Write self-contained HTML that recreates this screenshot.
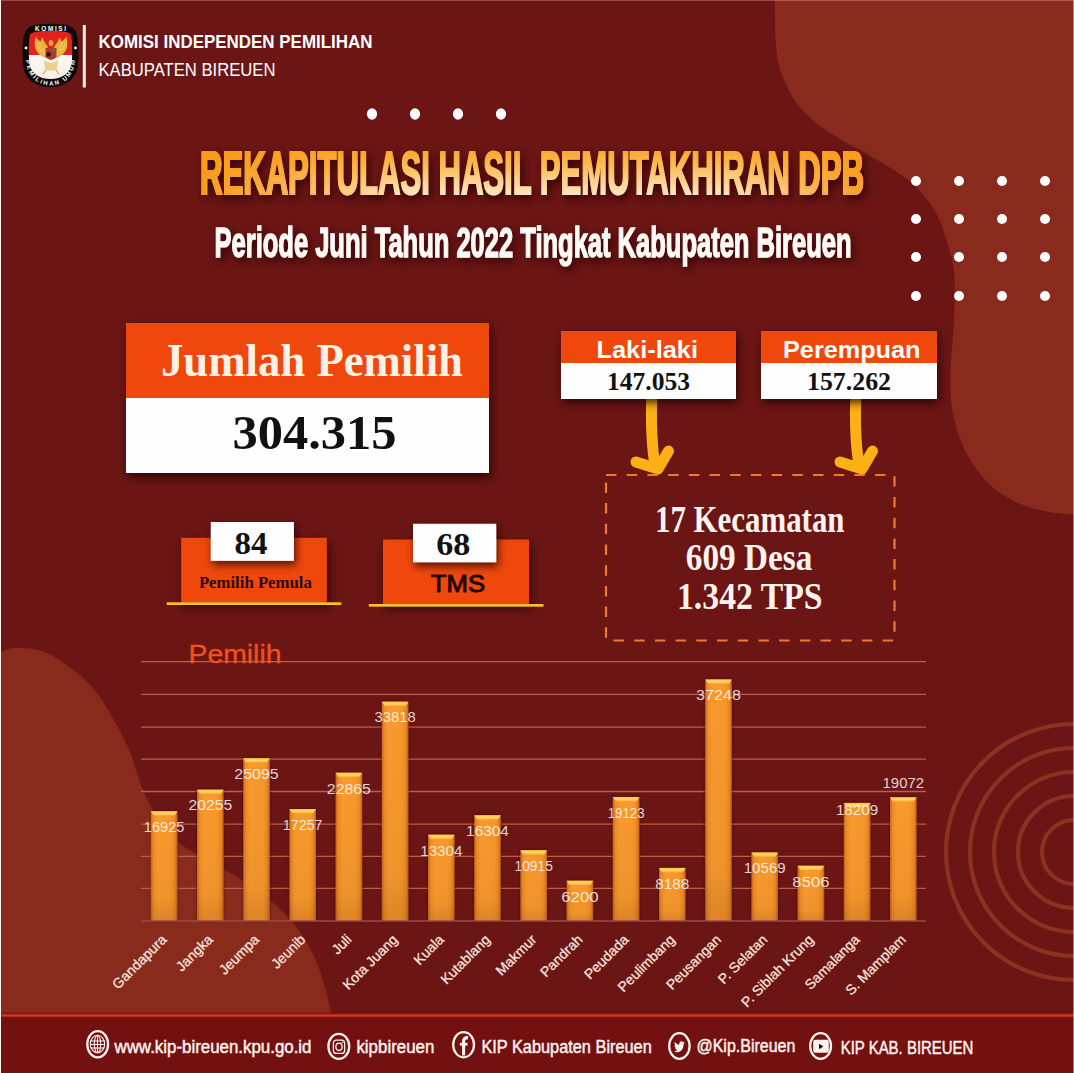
<!DOCTYPE html>
<html><head><meta charset="utf-8">
<style>
*{margin:0;padding:0;box-sizing:border-box}
html,body{width:1074px;height:1073px;overflow:hidden;background:#6b1514}
#root{position:relative;width:1074px;height:1073px;overflow:hidden;background:#6b1514;font-family:"Liberation Sans",sans-serif}
.abs{position:absolute}
svg.layer{position:absolute;left:0;top:0}
</style></head><body><div id="root">

<svg class="layer" width="1074" height="1073" viewBox="0 0 1074 1073">
  <!-- top-right blob -->
  <path d="M775,-1 C775.0,2.5 774.9,13.2 775,20 C775.1,26.8 774.9,32.5 775.5,40 C776.1,47.5 776.9,57.7 778.6,65 C780.4,72.3 782.9,77.5 786,84 C789.1,90.5 792.3,97.5 797.3,104 C802.3,110.5 809.2,117.3 816,123 C822.8,128.7 830.2,133.0 838.3,138 C846.4,143.0 855.7,147.8 864.4,152.8 C873.1,157.8 882.4,162.8 890.5,168 C898.6,173.2 907.1,179.0 913,184 C918.9,189.0 922.2,193.2 926,198 C929.8,202.8 933.3,208.3 936,213 C938.7,217.7 940.3,221.5 942,226 C943.7,230.5 944.6,234.5 946.3,240 C948.0,245.5 950.6,252.8 952,259 C953.4,265.2 954.0,269.3 954.4,277 C954.8,284.7 954.8,295.7 954.6,305 C954.4,314.3 954.0,322.8 953.3,333 C952.6,343.2 951.0,355.5 950.6,366 C950.2,376.5 950.2,387.9 950.7,396 C951.2,404.1 952.1,408.4 953.3,414.6 C954.5,420.8 955.5,425.9 958,433 C960.5,440.1 963.6,448.7 968.6,457 C973.6,465.3 980.4,475.7 988,483 C995.6,490.3 1004.7,496.3 1014,501 C1023.3,505.7 1033.5,508.7 1043.7,511 C1053.9,513.3 1069.8,514.3 1075,515 L1075,-1 Z" fill="#892b1c"/>
  <!-- bottom-left blob -->
  <path d="M-1,653 C1.7,652.2 7.4,648.2 15,648 C22.6,647.8 34.8,648.2 44.7,652 C54.6,655.8 65.8,664.2 74.5,671 C83.2,677.8 90.2,684.3 97,693 C103.8,701.7 109.9,713.0 115.5,723 C121.1,733.0 126.1,742.4 130.4,753 C134.8,763.6 137.2,776.0 141.6,786.5 C145.9,797.0 150.3,806.7 156.5,816 C162.7,825.3 170.3,835.0 179,842.5 C187.7,850.0 198.2,854.8 208.7,861 C219.2,867.2 231.4,873.2 242,880 C252.6,886.8 263.3,894.6 272,902 C280.7,909.4 287.6,915.8 294.4,924.5 C301.2,933.2 308.1,944.1 313,954 C317.9,963.9 321.2,975.0 324,984 C326.8,993.0 328.8,1003.0 330,1008 C331.2,1013.0 330.8,1013.0 331,1014 L-1,1014 Z" fill="#892b1c"/>
  <!-- concentric rings -->
  <g fill="none" stroke="#8d3123" stroke-width="4.2">
    <circle cx="1074" cy="852" r="32"/>
    <circle cx="1074" cy="852" r="56"/>
    <circle cx="1074" cy="852" r="80"/>
    <circle cx="1074" cy="852" r="104"/>
    <circle cx="1074" cy="852" r="128"/>
  </g>
  <!-- footer -->
  <rect x="0" y="1013" width="1074" height="60" fill="#731010"/>
  <rect x="0" y="1012.6" width="1074" height="5" fill="#8c0f0a"/>
  <rect x="0" y="1014.3" width="1074" height="2.4" fill="#c83c1e"/>
  <!-- dots -->
  <g fill="#fff">
    <ellipse cx="372" cy="114" rx="5.1" ry="5.7"/><ellipse cx="415" cy="114" rx="5.1" ry="5.7"/><ellipse cx="458" cy="114" rx="5.1" ry="5.7"/><ellipse cx="501" cy="114" rx="5.1" ry="5.7"/>
  </g>
  <g fill="#fff">
    <circle cx="916" cy="181" r="5"/><circle cx="959" cy="181" r="5"/><circle cx="1002" cy="181" r="5"/><circle cx="1045" cy="181" r="5"/>
    <circle cx="916" cy="219" r="5"/><circle cx="959" cy="219" r="5"/><circle cx="1002" cy="219" r="5"/><circle cx="1045" cy="219" r="5"/>
    <circle cx="916" cy="257" r="5"/><circle cx="959" cy="257" r="5"/><circle cx="1002" cy="257" r="5"/><circle cx="1045" cy="257" r="5"/>
    <circle cx="916" cy="296" r="5"/><circle cx="959" cy="296" r="5"/><circle cx="1002" cy="296" r="5"/><circle cx="1045" cy="296" r="5"/>
  </g>
</svg>


<!-- header logo -->
<svg class="layer" width="1074" height="1073" viewBox="0 0 1074 1073" style="z-index:2">
  <defs>
    <linearGradient id="rw" x1="0" y1="0" x2="0" y2="1">
      <stop offset="0" stop-color="#e0201c"/><stop offset="0.5" stop-color="#e3231d"/><stop offset="0.5" stop-color="#fbf7f2"/><stop offset="1" stop-color="#f5efe8"/>
    </linearGradient>
    <linearGradient id="tgv" x1="0" y1="0" x2="0" y2="1">
      <stop offset="0.05" stop-color="#f89c14"/><stop offset="0.4" stop-color="#fbbc55"/><stop offset="0.78" stop-color="#fee2b6"/><stop offset="1" stop-color="#fff3e2"/>
    </linearGradient>
    <linearGradient id="tgh" x1="0" y1="0" x2="1" y2="0">
      <stop offset="0" stop-color="#f99b15" stop-opacity="1"/><stop offset="0.12" stop-color="#f99b15" stop-opacity="0.6"/><stop offset="0.3" stop-color="#f99b15" stop-opacity="0"/><stop offset="0.8" stop-color="#f99b15" stop-opacity="0"/><stop offset="1" stop-color="#f99b15" stop-opacity="0.9"/>
    </linearGradient>
    <filter id="tsh" x="-10%" y="-30%" width="120%" height="160%">
      <feGaussianBlur in="SourceAlpha" stdDeviation="4"/>
      <feOffset dx="3" dy="4" result="b"/>
      <feFlood flood-color="#2a0303" flood-opacity="0.85"/>
      <feComposite in2="b" operator="in"/>
      <feMerge><feMergeNode/><feMergeNode in="SourceGraphic"/></feMerge>
    </filter>
  </defs>
  <path d="M50.5,23.8 C62,23.8 72,25 75.5,31 C79,38 78.8,55 77.8,66 C76.3,80 64,87.2 50.5,87.2 C37,87.2 24.7,80 23.2,66 C22.2,55 22,38 25.5,31 C29,25 39,23.8 50.5,23.8 Z" fill="#0d0a0a"/>
  <path d="M50.5,31 C60,31 68,31.5 70.8,34 C72.8,40 72.3,55 71.8,62 C70.8,73 62,79 50.5,79 C39,79 30.2,73 29.2,62 C28.7,55 28.2,40 30.2,34 C33,31.5 41,31 50.5,31 Z" fill="url(#rw)"/>
  <g>
    <path id="lw" d="M49,58 C44,58.5 37.5,55 35.2,48 C34.2,44 34.6,40 35.8,36.5 C37.3,39.5 38.8,40.5 40.6,41.5 C41,39.8 41.6,38.6 42.6,37.6 C43.6,40.8 45,43.8 47.5,46 Z" fill="#e9b23e"/>
    <use href="#lw" transform="translate(102,0) scale(-1,1)"/>
    <path d="M37,44 C39,50 43,54 48,55.5 M39.5,42.5 C41,48 44,51.5 48,53" stroke="#f7d88a" stroke-width="0.8" fill="none"/>
    <path d="M65,44 C63,50 59,54 54,55.5 M62.5,42.5 C61,48 58,51.5 54,53" stroke="#f7d88a" stroke-width="0.8" fill="none"/>
    <ellipse cx="51" cy="43" rx="2.4" ry="3" fill="#e2a73a"/>
    <path d="M45.5,48 H56.5 V57 Q51,63 45.5,57 Z" fill="#b3372a"/>
    <rect x="46.5" y="52.5" width="4" height="4" fill="#1c1410"/>
    <circle cx="53.6" cy="50.6" r="1.6" fill="#2f8a3a"/>
    <path d="M44,60 Q51,66 58,60 L57,69 Q51,73 45,69 Z" fill="#ecd08c"/>
    <path d="M46,70 L43,74 M56,70 L59,74" stroke="#e2b860" stroke-width="1.4"/>
  </g>
  <text x="50.5" y="30.6" text-anchor="middle" font-family="Liberation Sans" font-weight="bold" font-size="6.4" fill="#fff" textLength="31" lengthAdjust="spacing">KOMISI</text>
  <path id="arcb" d="M25.6,55 C25.8,75 36,85.4 50.5,85.4 C65,85.4 75.2,75 75.4,55" fill="none"/>
  <text font-family="Liberation Sans" font-weight="bold" font-size="6" fill="#fff"><textPath href="#arcb" startOffset="50%" text-anchor="middle" textLength="78" lengthAdjust="spacing">PEMILIHAN UMUM</textPath></text>
  <circle cx="26" cy="48" r="1.4" fill="#fff"/><circle cx="75.5" cy="48" r="1.4" fill="#fff"/>
  <rect x="82.8" y="25" width="3" height="62.5" fill="#fbeee8"/>
  <text x="98.5" y="48.4" font-family="Liberation Sans" font-weight="bold" font-size="18" fill="#fff" textLength="274" lengthAdjust="spacingAndGlyphs">KOMISI INDEPENDEN PEMILIHAN</text>
  <text x="98.5" y="76.3" font-family="Liberation Sans" font-size="18" fill="#fff" textLength="177" lengthAdjust="spacingAndGlyphs">KABUPATEN BIREUEN</text>

  <!-- title -->
  <g filter="url(#tsh)">
    <text x="200" y="194" font-family="Liberation Sans" font-weight="bold" font-size="61.5" fill="url(#tgv)" stroke="url(#tgv)" stroke-width="2" textLength="664" lengthAdjust="spacingAndGlyphs">REKAPITULASI HASIL PEMUTAKHIRAN DPB</text>
  </g>
  <text x="200" y="194" font-family="Liberation Sans" font-weight="bold" font-size="61.5" fill="url(#tgh)" stroke="url(#tgh)" stroke-width="2" textLength="664" lengthAdjust="spacingAndGlyphs">REKAPITULASI HASIL PEMUTAKHIRAN DPB</text>
  <g filter="url(#tsh)">
    <text x="214.5" y="257.3" font-family="Liberation Sans" font-weight="bold" font-size="42" fill="#fffaf5" stroke="#fffaf5" stroke-width="1.3" textLength="637" lengthAdjust="spacingAndGlyphs">Periode Juni Tahun 2022 Tingkat Kabupaten Bireuen</text>
  </g>
</svg>


<!-- boxes -->
<svg class="layer" width="1074" height="1073" viewBox="0 0 1074 1073" style="z-index:3">
  <defs>
    <filter id="bsh" x="-20%" y="-20%" width="140%" height="150%">
      <feGaussianBlur in="SourceAlpha" stdDeviation="4"/>
      <feOffset dx="2" dy="4" result="b"/>
      <feFlood flood-color="#1a0000" flood-opacity="0.75"/>
      <feComposite in2="b" operator="in"/>
      <feMerge><feMergeNode/><feMergeNode in="SourceGraphic"/></feMerge>
    </filter>
  </defs>
  <!-- arrows -->
  <g fill="none" stroke="#fbb116" stroke-width="11" stroke-linecap="round" stroke-linejoin="round">
    <path d="M651.8,396 C651,420 651.5,445 655,465"/>
    <path d="M636,462 L658,469 L668.5,451"/>
    <path d="M855.8,396 C855,420 855.5,445 859,465"/>
    <path d="M840,462 L862,469 L872.5,451"/>
  </g>

  <g filter="url(#bsh)">
    <rect x="126" y="323" width="363" height="75" fill="#f0460a"/>
    <rect x="126" y="398" width="363" height="75" fill="#fefefe"/>
  </g>
  <text x="161" y="375.5" font-family="Liberation Serif" font-weight="bold" font-size="46.5" fill="#fdf1e6" textLength="302" lengthAdjust="spacingAndGlyphs">Jumlah Pemilih</text>
  <text x="232.5" y="449.2" font-family="Liberation Serif" font-weight="bold" font-size="48" fill="#111" textLength="164" lengthAdjust="spacingAndGlyphs">304.315</text>

  <g filter="url(#bsh)">
    <rect x="561" y="331" width="175" height="32" fill="#f0460a"/>
    <rect x="561" y="363" width="175" height="36" fill="#fefefe"/>
    <rect x="761" y="331" width="176" height="32" fill="#f0460a"/>
    <rect x="761" y="363" width="176" height="36" fill="#fefefe"/>
  </g>
  <text x="596.5" y="358.4" font-family="Liberation Sans" font-weight="bold" font-size="24" fill="#fff" textLength="101.5" lengthAdjust="spacingAndGlyphs">Laki-laki</text>
  <text x="783" y="358.4" font-family="Liberation Sans" font-weight="bold" font-size="24" fill="#fff" textLength="137.5" lengthAdjust="spacingAndGlyphs">Perempuan</text>
  <text x="607" y="389.6" font-family="Liberation Serif" font-weight="bold" font-size="25" fill="#111" textLength="83" lengthAdjust="spacingAndGlyphs">147.053</text>
  <text x="807" y="390.3" font-family="Liberation Serif" font-weight="bold" font-size="25" fill="#111" textLength="84" lengthAdjust="spacingAndGlyphs">157.262</text>

  <!-- small boxes -->
  <g filter="url(#bsh)">
    <rect x="181.2" y="537.8" width="145.6" height="64.8" fill="#f0460a"/>
    <rect x="383" y="539.5" width="146" height="65" fill="#f0460a"/>
  </g>
  <g filter="url(#bsh)">
    <rect x="210.8" y="522" width="83.1" height="38.8" fill="#fefefe"/>
    <rect x="413" y="523.8" width="83.2" height="38.4" fill="#fefefe"/>
  </g>
  <rect x="166.7" y="602.3" width="174.6" height="2.7" fill="#f6c22c"/>
  <rect x="368.8" y="604" width="174.7" height="2.7" fill="#f6c22c"/>
  <text x="234.5" y="553.9" font-family="Liberation Serif" font-weight="bold" font-size="31" fill="#111" textLength="33" lengthAdjust="spacingAndGlyphs">84</text>
  <text x="436.3" y="554.6" font-family="Liberation Serif" font-weight="bold" font-size="31" fill="#111" textLength="34" lengthAdjust="spacingAndGlyphs">68</text>
  <text x="198.9" y="587.8" font-family="Liberation Serif" font-weight="bold" font-size="16" fill="#2a0806" textLength="112.9" lengthAdjust="spacingAndGlyphs">Pemilih Pemula</text>
  <text x="430.8" y="592.3" font-family="Liberation Sans" font-size="23" fill="#1f0503" stroke="#1f0503" stroke-width="0.9" textLength="54.3" lengthAdjust="spacingAndGlyphs">TMS</text>

  <!-- dashed box -->
  <rect x="606" y="475" width="288.5" height="165.5" fill="none" stroke="#f2782a" stroke-width="2.2" stroke-dasharray="10.5,10.2"/>
  <g font-family="Liberation Serif" font-weight="bold" font-size="38" fill="#fdf3ee">
    <text x="655" y="531.5" textLength="189.5" lengthAdjust="spacingAndGlyphs">17 Kecamatan</text>
    <text x="685.8" y="570" textLength="126.5" lengthAdjust="spacingAndGlyphs">609 Desa</text>
    <text x="677" y="609" textLength="145.5" lengthAdjust="spacingAndGlyphs">1.342 TPS</text>
  </g>
</svg>

<!--CHART--><svg class="layer" width="1074" height="1073" viewBox="0 0 1074 1073" style="z-index:1">
<defs>
<linearGradient id="barH" x1="0" y1="0" x2="1" y2="0">
<stop offset="0" stop-color="#c9661a"/><stop offset="0.1" stop-color="#ee8d28"/><stop offset="0.25" stop-color="#f99a2e"/><stop offset="0.75" stop-color="#f8982c"/><stop offset="0.9" stop-color="#ec8a26"/><stop offset="1" stop-color="#c46018"/>
</linearGradient>
<linearGradient id="barV" x1="0" y1="0" x2="0" y2="1">
<stop offset="0" stop-color="#000" stop-opacity="0"/><stop offset="0.8" stop-color="#000" stop-opacity="0.04"/><stop offset="1" stop-color="#401000" stop-opacity="0.15"/>
</linearGradient>
<linearGradient id="barT" x1="0" y1="0" x2="0" y2="1">
<stop offset="0" stop-color="#ffc24a"/><stop offset="0.5" stop-color="#ffd866"/><stop offset="1" stop-color="#f9a536"/>
</linearGradient>
<filter id="barsh" x="-30%" y="-5%" width="160%" height="110%">
<feGaussianBlur in="SourceAlpha" stdDeviation="1.6"/>
<feOffset dx="0" dy="0" result="b"/>
<feFlood flood-color="#2a0000" flood-opacity="0.6"/>
<feComposite in2="b" operator="in"/>
<feMerge><feMergeNode/><feMergeNode in="SourceGraphic"/></feMerge>
</filter>
</defs>
<g stroke="#bd5f45" stroke-width="1.3">
<line x1="141" y1="888.30" x2="926" y2="888.30"/>
<line x1="141" y1="856.30" x2="926" y2="856.30"/>
<line x1="141" y1="824.10" x2="926" y2="824.10"/>
<line x1="141" y1="791.50" x2="926" y2="791.50"/>
<line x1="141" y1="759.10" x2="926" y2="759.10"/>
<line x1="141" y1="727.10" x2="926" y2="727.10"/>
<line x1="141" y1="694.40" x2="926" y2="694.40"/>
<line x1="141" y1="661.60" x2="926" y2="661.60"/>
</g>
<text x="188.5" y="662.7" font-family="Liberation Sans" font-size="25" fill="#f0521c" textLength="93" lengthAdjust="spacingAndGlyphs" stroke="#f0521c" stroke-width="0.3">Pemilih</text>
<g filter="url(#barsh)">
<rect x="150.80" y="811.24" width="26.6" height="109.76" fill="url(#barH)"/>
<rect x="197.00" y="789.65" width="26.6" height="131.35" fill="url(#barH)"/>
<rect x="243.20" y="758.26" width="26.6" height="162.74" fill="url(#barH)"/>
<rect x="289.40" y="809.09" width="26.6" height="111.91" fill="url(#barH)"/>
<rect x="335.60" y="772.72" width="26.6" height="148.28" fill="url(#barH)"/>
<rect x="381.80" y="701.69" width="26.6" height="219.31" fill="url(#barH)"/>
<rect x="428.00" y="834.72" width="26.6" height="86.28" fill="url(#barH)"/>
<rect x="474.20" y="815.27" width="26.6" height="105.73" fill="url(#barH)"/>
<rect x="520.40" y="850.22" width="26.6" height="70.78" fill="url(#barH)"/>
<rect x="566.60" y="880.79" width="26.6" height="40.21" fill="url(#barH)"/>
<rect x="612.80" y="796.99" width="26.6" height="124.01" fill="url(#barH)"/>
<rect x="659.00" y="867.90" width="26.6" height="53.10" fill="url(#barH)"/>
<rect x="705.20" y="679.45" width="26.6" height="241.55" fill="url(#barH)"/>
<rect x="751.40" y="852.46" width="26.6" height="68.54" fill="url(#barH)"/>
<rect x="797.60" y="865.84" width="26.6" height="55.16" fill="url(#barH)"/>
<rect x="843.80" y="802.91" width="26.6" height="118.09" fill="url(#barH)"/>
<rect x="890.00" y="797.32" width="26.6" height="123.68" fill="url(#barH)"/>
</g>
<rect x="150.80" y="811.24" width="26.6" height="109.76" fill="url(#barV)"/>
<path d="M150.80,811.24 h26.6 l-3,4.5 h-20.6 z" fill="url(#barT)"/>
<rect x="197.00" y="789.65" width="26.6" height="131.35" fill="url(#barV)"/>
<path d="M197.00,789.65 h26.6 l-3,4.5 h-20.6 z" fill="url(#barT)"/>
<rect x="243.20" y="758.26" width="26.6" height="162.74" fill="url(#barV)"/>
<path d="M243.20,758.26 h26.6 l-3,4.5 h-20.6 z" fill="url(#barT)"/>
<rect x="289.40" y="809.09" width="26.6" height="111.91" fill="url(#barV)"/>
<path d="M289.40,809.09 h26.6 l-3,4.5 h-20.6 z" fill="url(#barT)"/>
<rect x="335.60" y="772.72" width="26.6" height="148.28" fill="url(#barV)"/>
<path d="M335.60,772.72 h26.6 l-3,4.5 h-20.6 z" fill="url(#barT)"/>
<rect x="381.80" y="701.69" width="26.6" height="219.31" fill="url(#barV)"/>
<path d="M381.80,701.69 h26.6 l-3,4.5 h-20.6 z" fill="url(#barT)"/>
<rect x="428.00" y="834.72" width="26.6" height="86.28" fill="url(#barV)"/>
<path d="M428.00,834.72 h26.6 l-3,4.5 h-20.6 z" fill="url(#barT)"/>
<rect x="474.20" y="815.27" width="26.6" height="105.73" fill="url(#barV)"/>
<path d="M474.20,815.27 h26.6 l-3,4.5 h-20.6 z" fill="url(#barT)"/>
<rect x="520.40" y="850.22" width="26.6" height="70.78" fill="url(#barV)"/>
<path d="M520.40,850.22 h26.6 l-3,4.5 h-20.6 z" fill="url(#barT)"/>
<rect x="566.60" y="880.79" width="26.6" height="40.21" fill="url(#barV)"/>
<path d="M566.60,880.79 h26.6 l-3,4.5 h-20.6 z" fill="url(#barT)"/>
<rect x="612.80" y="796.99" width="26.6" height="124.01" fill="url(#barV)"/>
<path d="M612.80,796.99 h26.6 l-3,4.5 h-20.6 z" fill="url(#barT)"/>
<rect x="659.00" y="867.90" width="26.6" height="53.10" fill="url(#barV)"/>
<path d="M659.00,867.90 h26.6 l-3,4.5 h-20.6 z" fill="url(#barT)"/>
<rect x="705.20" y="679.45" width="26.6" height="241.55" fill="url(#barV)"/>
<path d="M705.20,679.45 h26.6 l-3,4.5 h-20.6 z" fill="url(#barT)"/>
<rect x="751.40" y="852.46" width="26.6" height="68.54" fill="url(#barV)"/>
<path d="M751.40,852.46 h26.6 l-3,4.5 h-20.6 z" fill="url(#barT)"/>
<rect x="797.60" y="865.84" width="26.6" height="55.16" fill="url(#barV)"/>
<path d="M797.60,865.84 h26.6 l-3,4.5 h-20.6 z" fill="url(#barT)"/>
<rect x="843.80" y="802.91" width="26.6" height="118.09" fill="url(#barV)"/>
<path d="M843.80,802.91 h26.6 l-3,4.5 h-20.6 z" fill="url(#barT)"/>
<rect x="890.00" y="797.32" width="26.6" height="123.68" fill="url(#barV)"/>
<path d="M890.00,797.32 h26.6 l-3,4.5 h-20.6 z" fill="url(#barT)"/>
<line x1="141" y1="921" x2="926" y2="921" stroke="#9a4a4a" stroke-width="1.5"/>
<g font-family="Liberation Sans" font-size="15.3" fill="#fff" fill-opacity="0.82" text-anchor="middle">
<text x="164.10" y="832.04" textLength="40.58" lengthAdjust="spacingAndGlyphs">16925</text>
<text x="210.30" y="810.45" textLength="43.71" lengthAdjust="spacingAndGlyphs">20255</text>
<text x="256.50" y="779.06" textLength="44.44" lengthAdjust="spacingAndGlyphs">25095</text>
<text x="302.70" y="829.89" textLength="39.78" lengthAdjust="spacingAndGlyphs">17257</text>
<text x="348.90" y="793.52" textLength="44.11" lengthAdjust="spacingAndGlyphs">22865</text>
<text x="395.10" y="722.49" textLength="41.28" lengthAdjust="spacingAndGlyphs">33818</text>
<text x="441.30" y="855.52" textLength="41.99" lengthAdjust="spacingAndGlyphs">13304</text>
<text x="487.50" y="836.07" textLength="42.73" lengthAdjust="spacingAndGlyphs">16304</text>
<text x="533.70" y="871.02" textLength="38.27" lengthAdjust="spacingAndGlyphs">10915</text>
<text x="579.90" y="901.59" textLength="37.37" lengthAdjust="spacingAndGlyphs">6200</text>
<text x="626.10" y="817.79" textLength="36.84" lengthAdjust="spacingAndGlyphs">19123</text>
<text x="672.30" y="888.70" textLength="34.03" lengthAdjust="spacingAndGlyphs">8188</text>
<text x="718.50" y="700.25" textLength="44.80" lengthAdjust="spacingAndGlyphs">37248</text>
<text x="764.70" y="873.26" textLength="41.99" lengthAdjust="spacingAndGlyphs">10569</text>
<text x="810.90" y="886.64" textLength="37.02" lengthAdjust="spacingAndGlyphs">8506</text>
<text x="857.10" y="815.31" textLength="42.42" lengthAdjust="spacingAndGlyphs">18209</text>
<text x="903.30" y="788.32" textLength="41.60" lengthAdjust="spacingAndGlyphs">19072</text>
</g>
<g font-family="Liberation Sans" font-size="14" fill="#f6e2dc" stroke="#f6e2dc" stroke-width="0.3" text-anchor="end">
<text transform="translate(167.60,940.40) rotate(-45)">Gandapura</text>
<text transform="translate(213.80,940.40) rotate(-45)">Jangka</text>
<text transform="translate(260.00,940.40) rotate(-45)">Jeumpa</text>
<text transform="translate(306.20,940.40) rotate(-45)">Jeunib</text>
<text transform="translate(352.40,940.40) rotate(-45)">Juli</text>
<text transform="translate(398.60,940.40) rotate(-45)">Kota Juang</text>
<text transform="translate(444.80,940.40) rotate(-45)">Kuala</text>
<text transform="translate(491.00,940.40) rotate(-45)">Kutablang</text>
<text transform="translate(537.20,940.40) rotate(-45)">Makmur</text>
<text transform="translate(583.40,940.40) rotate(-45)">Pandrah</text>
<text transform="translate(629.60,940.40) rotate(-45)">Peudada</text>
<text transform="translate(675.80,940.40) rotate(-45)">Peulimbang</text>
<text transform="translate(722.00,940.40) rotate(-45)">Peusangan</text>
<text transform="translate(768.20,940.40) rotate(-45)">P. Selatan</text>
<text transform="translate(814.40,940.40) rotate(-45)">P. Siblah Krung</text>
<text transform="translate(860.60,940.40) rotate(-45)">Samalanga</text>
<text transform="translate(906.80,940.40) rotate(-45)">S. Mamplam</text>
</g>
</svg><!--/CHART-->

<!-- footer -->
<svg class="layer" width="1074" height="1073" viewBox="0 0 1074 1073" style="z-index:4">
  <g fill="none" stroke="#fdf2ee" stroke-width="2.3">
    <ellipse cx="97.7" cy="1044.3" rx="10.4" ry="13.1"/>
    <ellipse cx="338.8" cy="1046.4" rx="10.4" ry="12.5"/>
    <ellipse cx="463.6" cy="1044.7" rx="10.4" ry="12.6"/>
    <ellipse cx="679.4" cy="1046" rx="10.2" ry="12.8"/>
    <ellipse cx="820.6" cy="1046" rx="10.4" ry="12.8"/>
  </g>
  <!-- globe -->
  <g fill="none" stroke="#fdf2ee" stroke-width="1.1">
    <ellipse cx="97.5" cy="1044" rx="7.2" ry="8.8"/>
    <ellipse cx="97.5" cy="1044" rx="3.2" ry="8.8"/>
    <line x1="97.5" y1="1035.2" x2="97.5" y2="1052.8"/>
    <line x1="90.5" y1="1041" x2="104.5" y2="1041"/>
    <line x1="90.3" y1="1044.5" x2="104.7" y2="1044.5"/>
    <line x1="90.8" y1="1048" x2="104.2" y2="1048"/>
  </g>
  <!-- instagram -->
  <g fill="none" stroke="#fdf2ee" stroke-width="1.3">
    <rect x="333.4" y="1040.2" width="11.2" height="13.2" rx="3"/>
    <ellipse cx="339" cy="1046.8" rx="3.1" ry="3.7"/>
  </g>
  <circle cx="342.5" cy="1042.5" r="0.8" fill="#fdf2ee"/>
  <!-- facebook -->
  <g fill="none" stroke="#fdf2ee" stroke-width="3.1">
    <path d="M463.6,1055.5 V1041.5 Q463.6,1037.6 468,1037.6"/>
    <path d="M459.8,1044.2 H467.5" stroke-width="2.8"/>
  </g>
  <!-- twitter -->
  <path transform="translate(673.6,1039.6) scale(0.47,0.6)" fill="#fdf2ee" d="M23.643 4.937c-.835.37-1.732.62-2.675.733.962-.576 1.7-1.49 2.048-2.578-.9.534-1.897.922-2.958 1.13-.85-.904-2.06-1.47-3.4-1.47-2.572 0-4.658 2.086-4.658 4.66 0 .364.042.718.12 1.06-3.873-.195-7.304-2.05-9.602-4.868-.4.69-.63 1.49-.63 2.342 0 1.616.823 3.043 2.072 3.878-.764-.025-1.482-.234-2.11-.583v.06c0 2.257 1.605 4.14 3.737 4.568-.392.106-.803.162-1.227.162-.3 0-.593-.028-.877-.082.593 1.85 2.313 3.198 4.352 3.234-1.595 1.25-3.604 1.995-5.786 1.995-.376 0-.747-.022-1.112-.065 2.062 1.323 4.51 2.093 7.14 2.093 8.57 0 13.255-7.098 13.255-13.254 0-.2-.005-.402-.014-.602.91-.658 1.7-1.477 2.323-2.41z"/>
  <!-- youtube -->
  <rect x="813.2" y="1039.7" width="15.6" height="13" rx="2.2" fill="#fdf2ee"/>
  <path d="M819,1043.8 L823.4,1046.5 L819,1049.2 Z" fill="#111"/>
  <g font-family="Liberation Sans" font-size="17.5" fill="#fdf2ee" stroke="#fdf2ee" stroke-width="0.45">
    <text x="114.5" y="1052.6" textLength="197" lengthAdjust="spacingAndGlyphs">www.kip-bireuen.kpu.go.id</text>
    <text x="356.4" y="1053.3" textLength="78" lengthAdjust="spacingAndGlyphs">kipbireuen</text>
    <text x="481.4" y="1053" textLength="170.4" lengthAdjust="spacingAndGlyphs">KIP Kabupaten Bireuen</text>
    <text x="696.5" y="1051.8" textLength="98.8" lengthAdjust="spacingAndGlyphs">@Kip.Bireuen</text>
    <text x="840.7" y="1053.7" textLength="132.7" lengthAdjust="spacingAndGlyphs">KIP KAB. BIREUEN</text>
  </g>
</svg>

<div class="abs" style="left:0;top:0;width:1px;height:1073px;background:#fff3ee;z-index:9"></div>
<div class="abs" style="left:1073px;top:0;width:1px;height:1073px;background:rgba(255,215,215,0.5);z-index:9"></div>
<div class="abs" style="left:0;top:0;width:1074px;height:1px;background:rgba(255,200,200,0.3);z-index:9"></div>
</div></body></html>
